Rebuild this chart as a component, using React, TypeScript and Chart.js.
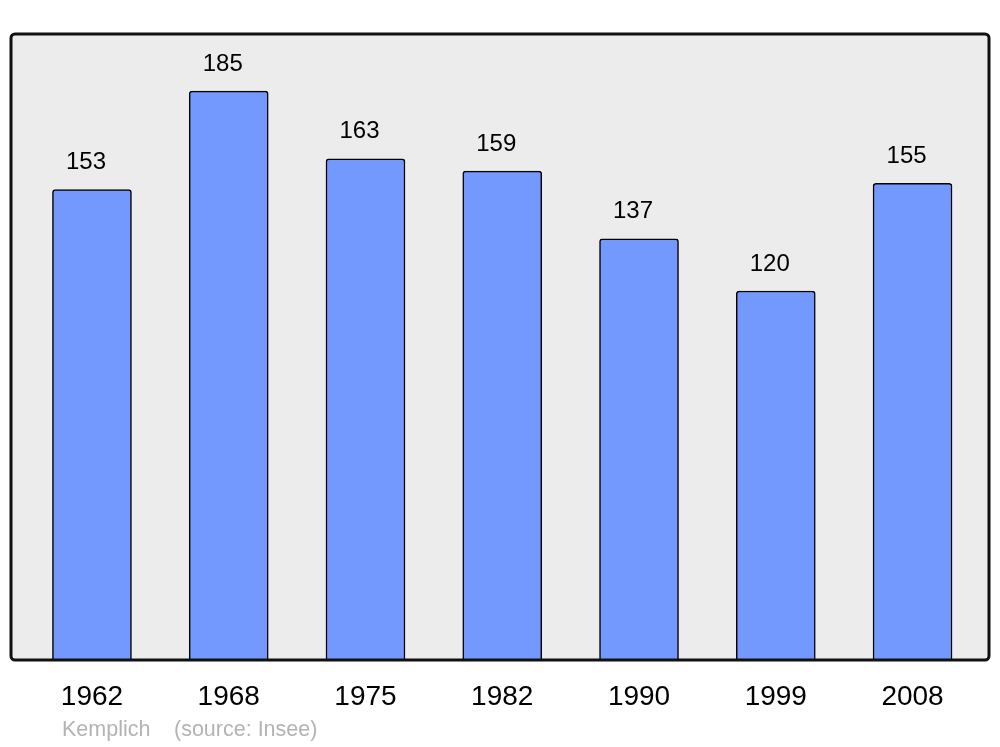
import React, { useEffect, useRef } from "react";
import { Chart, registerables } from "chart.js";

Chart.register(...registerables);

const years = ["1962", "1968", "1975", "1982", "1990", "1999", "2008"];
const population = [153, 185, 163, 159, 137, 120, 155];
const footerName = "Kemplich";
const footerSource = "(source: Insee)";

const FONT = "'Liberation Sans', Arial, sans-serif";

export default function App() {
  const ref = useRef<HTMLCanvasElement | null>(null);

  useEffect(() => {
    const canvas = ref.current;
    if (!canvas) return;

    const boxPlugin = {
      id: "boxPlugin",
      beforeDatasetsDraw(chart: any) {
        const { ctx, chartArea: a } = chart;
        ctx.save();
        ctx.beginPath();
        ctx.roundRect(a.left, a.top, a.right - a.left, a.bottom - a.top, 4);
        ctx.fillStyle = "#ececec";
        ctx.fill();
        ctx.restore();
      },
      afterDatasetsDraw(chart: any) {
        const { ctx, chartArea: a } = chart;
        ctx.save();
        ctx.beginPath();
        ctx.roundRect(a.left, a.top, a.right - a.left, a.bottom - a.top, 4);
        ctx.lineWidth = 3;
        ctx.strokeStyle = "#111";
        ctx.stroke();

        // value labels
        const meta = chart.getDatasetMeta(0);
        ctx.fillStyle = "#000";
        ctx.font = `24px ${FONT}`;
        ctx.textAlign = "center";
        ctx.textBaseline = "middle";
        meta.data.forEach((bar: any, i: number) => {
          ctx.fillText(String(population[i]), bar.x - 6, bar.y - 27);
        });

        // footer
        ctx.fillStyle = "#b3b3b3";
        ctx.font = `21.5px ${FONT}`;
        ctx.textAlign = "left";
        ctx.fillText(footerName, 62, 730);
        ctx.fillText(footerSource, 174, 730);
        ctx.restore();
      },
    };

    const chart = new Chart(canvas, {
      type: "bar",
      data: {
        datasets: [
          {
            data: population.map((v, i) => ({ x: i, y: v })),
            backgroundColor: "#7399ff",
            borderColor: "#000",
            borderWidth: 1.5,
            borderSkipped: "bottom",
            borderRadius: { topLeft: 3, topRight: 3, bottomLeft: 0, bottomRight: 0 },
            barThickness: 79,
          },
        ],
      },
      options: {
        responsive: false,
        animation: false,
        layout: { padding: { top: 34, left: 11, right: 11, bottom: 0 } },
        plugins: { legend: { display: false }, tooltip: { enabled: false } },
        scales: {
          x: {
            type: "linear",
            offset: false,
            min: -0.592,
            max: 6.559,
            grid: { display: false, offset: false },
            border: { display: false },
            afterBuildTicks: (s: any) => {
              s.ticks = years.map((_, i) => ({ value: i }));
            },
            afterFit: (s: any) => {
              s.height = 87;
            },
            ticks: {
              autoSkip: false,
              maxRotation: 0,
              padding: 12,
              color: "#000",
              font: { family: FONT, size: 28 },
              callback: (v: any) => years[Math.round(Number(v))] ?? "",
            },
          },
          y: {
            display: false,
            min: 0,
            max: 203.6,
          },
        },
      },
      plugins: [boxPlugin],
    });

    return () => chart.destroy();
  }, []);

  return (
    <div style={{ position: "fixed", left: 0, top: 0, width: 1000, height: 747, background: "#fff" }}>
      <canvas ref={ref} width={1000} height={747} style={{ display: "block" }} />
    </div>
  );
}
